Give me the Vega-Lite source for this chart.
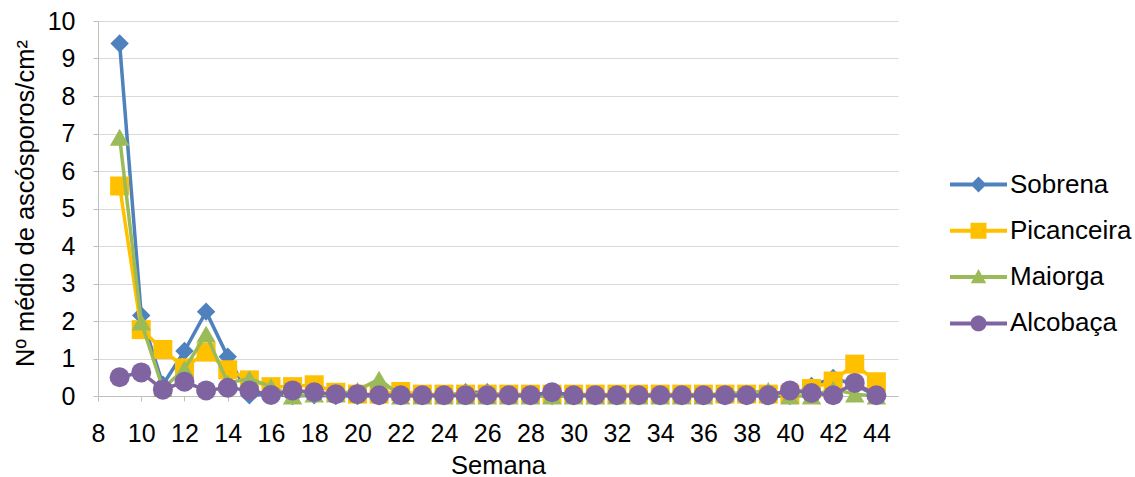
{
  "$schema": "https://vega.github.io/schema/vega-lite/v6.json",
  "width": 800,
  "height": 375,
  "autosize": {"type": "none"},
  "padding": {"left": 98, "top": 21, "right": 237, "bottom": 81},
  "background": "white",
  "config": {
    "view": {"stroke": null},
    "font": "Liberation Sans",
    "axis": {"labelFont": "Liberation Sans", "titleFont": "Liberation Sans", "labelColor": "#000000", "titleColor": "#000000", "titleFontWeight": "normal"}
  },
  "data": {"values": [
    {"semana": 9, "local": "Sobrena", "valor": 9.4}, {"semana": 10, "local": "Sobrena", "valor": 2.15}, {"semana": 11, "local": "Sobrena", "valor": 0.3}, {"semana": 12, "local": "Sobrena", "valor": 1.2}, {"semana": 13, "local": "Sobrena", "valor": 2.25}, {"semana": 14, "local": "Sobrena", "valor": 1.05}, {"semana": 15, "local": "Sobrena", "valor": 0.02}, {"semana": 16, "local": "Sobrena", "valor": 0.05}, {"semana": 17, "local": "Sobrena", "valor": 0}, {"semana": 18, "local": "Sobrena", "valor": 0.02}, {"semana": 19, "local": "Sobrena", "valor": 0}, {"semana": 20, "local": "Sobrena", "valor": 0}, {"semana": 21, "local": "Sobrena", "valor": 0}, {"semana": 22, "local": "Sobrena", "valor": 0}, {"semana": 23, "local": "Sobrena", "valor": 0}, {"semana": 24, "local": "Sobrena", "valor": 0}, {"semana": 25, "local": "Sobrena", "valor": 0.1}, {"semana": 26, "local": "Sobrena", "valor": 0.1}, {"semana": 27, "local": "Sobrena", "valor": 0}, {"semana": 28, "local": "Sobrena", "valor": 0}, {"semana": 29, "local": "Sobrena", "valor": 0}, {"semana": 30, "local": "Sobrena", "valor": 0}, {"semana": 31, "local": "Sobrena", "valor": 0}, {"semana": 32, "local": "Sobrena", "valor": 0}, {"semana": 33, "local": "Sobrena", "valor": 0}, {"semana": 34, "local": "Sobrena", "valor": 0}, {"semana": 35, "local": "Sobrena", "valor": 0}, {"semana": 36, "local": "Sobrena", "valor": 0}, {"semana": 37, "local": "Sobrena", "valor": 0}, {"semana": 38, "local": "Sobrena", "valor": 0}, {"semana": 39, "local": "Sobrena", "valor": 0}, {"semana": 40, "local": "Sobrena", "valor": 0}, {"semana": 41, "local": "Sobrena", "valor": 0.27}, {"semana": 42, "local": "Sobrena", "valor": 0.48}, {"semana": 43, "local": "Sobrena", "valor": 0.3}, {"semana": 44, "local": "Sobrena", "valor": 0},
    {"semana": 9, "local": "Picanceira", "valor": 5.6}, {"semana": 10, "local": "Picanceira", "valor": 1.77}, {"semana": 11, "local": "Picanceira", "valor": 1.24}, {"semana": 12, "local": "Picanceira", "valor": 0.75}, {"semana": 13, "local": "Picanceira", "valor": 1.17}, {"semana": 14, "local": "Picanceira", "valor": 0.7}, {"semana": 15, "local": "Picanceira", "valor": 0.43}, {"semana": 16, "local": "Picanceira", "valor": 0.25}, {"semana": 17, "local": "Picanceira", "valor": 0.25}, {"semana": 18, "local": "Picanceira", "valor": 0.3}, {"semana": 19, "local": "Picanceira", "valor": 0.1}, {"semana": 20, "local": "Picanceira", "valor": 0.05}, {"semana": 21, "local": "Picanceira", "valor": 0.05}, {"semana": 22, "local": "Picanceira", "valor": 0.12}, {"semana": 23, "local": "Picanceira", "valor": 0.05}, {"semana": 24, "local": "Picanceira", "valor": 0.05}, {"semana": 25, "local": "Picanceira", "valor": 0.05}, {"semana": 26, "local": "Picanceira", "valor": 0.05}, {"semana": 27, "local": "Picanceira", "valor": 0.05}, {"semana": 28, "local": "Picanceira", "valor": 0.05}, {"semana": 29, "local": "Picanceira", "valor": 0.05}, {"semana": 30, "local": "Picanceira", "valor": 0.05}, {"semana": 31, "local": "Picanceira", "valor": 0.05}, {"semana": 32, "local": "Picanceira", "valor": 0.05}, {"semana": 33, "local": "Picanceira", "valor": 0.05}, {"semana": 34, "local": "Picanceira", "valor": 0.05}, {"semana": 35, "local": "Picanceira", "valor": 0.05}, {"semana": 36, "local": "Picanceira", "valor": 0.05}, {"semana": 37, "local": "Picanceira", "valor": 0.05}, {"semana": 38, "local": "Picanceira", "valor": 0.05}, {"semana": 39, "local": "Picanceira", "valor": 0.05}, {"semana": 40, "local": "Picanceira", "valor": 0.05}, {"semana": 41, "local": "Picanceira", "valor": 0.2}, {"semana": 42, "local": "Picanceira", "valor": 0.4}, {"semana": 43, "local": "Picanceira", "valor": 0.85}, {"semana": 44, "local": "Picanceira", "valor": 0.38},
    {"semana": 9, "local": "Maiorga", "valor": 6.9}, {"semana": 10, "local": "Maiorga", "valor": 1.97}, {"semana": 11, "local": "Maiorga", "valor": 0.2}, {"semana": 12, "local": "Maiorga", "valor": 0.72}, {"semana": 13, "local": "Maiorga", "valor": 1.65}, {"semana": 14, "local": "Maiorga", "valor": 0.35}, {"semana": 15, "local": "Maiorga", "valor": 0.46}, {"semana": 16, "local": "Maiorga", "valor": 0.25}, {"semana": 17, "local": "Maiorga", "valor": 0}, {"semana": 18, "local": "Maiorga", "valor": 0.05}, {"semana": 19, "local": "Maiorga", "valor": 0.05}, {"semana": 20, "local": "Maiorga", "valor": 0.15}, {"semana": 21, "local": "Maiorga", "valor": 0.45}, {"semana": 22, "local": "Maiorga", "valor": 0}, {"semana": 23, "local": "Maiorga", "valor": 0}, {"semana": 24, "local": "Maiorga", "valor": 0}, {"semana": 25, "local": "Maiorga", "valor": 0}, {"semana": 26, "local": "Maiorga", "valor": 0}, {"semana": 27, "local": "Maiorga", "valor": 0}, {"semana": 28, "local": "Maiorga", "valor": 0}, {"semana": 29, "local": "Maiorga", "valor": 0}, {"semana": 30, "local": "Maiorga", "valor": 0}, {"semana": 31, "local": "Maiorga", "valor": 0}, {"semana": 32, "local": "Maiorga", "valor": 0}, {"semana": 33, "local": "Maiorga", "valor": 0}, {"semana": 34, "local": "Maiorga", "valor": 0}, {"semana": 35, "local": "Maiorga", "valor": 0}, {"semana": 36, "local": "Maiorga", "valor": 0}, {"semana": 37, "local": "Maiorga", "valor": 0.08}, {"semana": 38, "local": "Maiorga", "valor": 0.08}, {"semana": 39, "local": "Maiorga", "valor": 0.15}, {"semana": 40, "local": "Maiorga", "valor": 0}, {"semana": 41, "local": "Maiorga", "valor": 0}, {"semana": 42, "local": "Maiorga", "valor": 0.18}, {"semana": 43, "local": "Maiorga", "valor": 0.05}, {"semana": 44, "local": "Maiorga", "valor": 0},
    {"semana": 9, "local": "Alcobaça", "valor": 0.5}, {"semana": 10, "local": "Alcobaça", "valor": 0.63}, {"semana": 11, "local": "Alcobaça", "valor": 0.17}, {"semana": 12, "local": "Alcobaça", "valor": 0.38}, {"semana": 13, "local": "Alcobaça", "valor": 0.15}, {"semana": 14, "local": "Alcobaça", "valor": 0.22}, {"semana": 15, "local": "Alcobaça", "valor": 0.15}, {"semana": 16, "local": "Alcobaça", "valor": 0.03}, {"semana": 17, "local": "Alcobaça", "valor": 0.15}, {"semana": 18, "local": "Alcobaça", "valor": 0.1}, {"semana": 19, "local": "Alcobaça", "valor": 0.05}, {"semana": 20, "local": "Alcobaça", "valor": 0.05}, {"semana": 21, "local": "Alcobaça", "valor": 0.02}, {"semana": 22, "local": "Alcobaça", "valor": 0.02}, {"semana": 23, "local": "Alcobaça", "valor": 0.02}, {"semana": 24, "local": "Alcobaça", "valor": 0.02}, {"semana": 25, "local": "Alcobaça", "valor": 0.02}, {"semana": 26, "local": "Alcobaça", "valor": 0.02}, {"semana": 27, "local": "Alcobaça", "valor": 0.02}, {"semana": 28, "local": "Alcobaça", "valor": 0.02}, {"semana": 29, "local": "Alcobaça", "valor": 0.1}, {"semana": 30, "local": "Alcobaça", "valor": 0.02}, {"semana": 31, "local": "Alcobaça", "valor": 0.02}, {"semana": 32, "local": "Alcobaça", "valor": 0.02}, {"semana": 33, "local": "Alcobaça", "valor": 0.02}, {"semana": 34, "local": "Alcobaça", "valor": 0.02}, {"semana": 35, "local": "Alcobaça", "valor": 0.02}, {"semana": 36, "local": "Alcobaça", "valor": 0.02}, {"semana": 37, "local": "Alcobaça", "valor": 0.02}, {"semana": 38, "local": "Alcobaça", "valor": 0.02}, {"semana": 39, "local": "Alcobaça", "valor": 0.02}, {"semana": 40, "local": "Alcobaça", "valor": 0.15}, {"semana": 41, "local": "Alcobaça", "valor": 0.08}, {"semana": 42, "local": "Alcobaça", "valor": 0.02}, {"semana": 43, "local": "Alcobaça", "valor": 0.35}, {"semana": 44, "local": "Alcobaça", "valor": 0.02}
  ]},
  "encoding": {
    "x": {"field": "semana", "type": "quantitative", "scale": {"domain": [8, 45], "nice": false, "zero": false},
      "axis": {"title": "Semana", "values": [8, 10, 12, 14, 16, 18, 20, 22, 24, 26, 28, 30, 32, 34, 36, 38, 40, 42, 44], "grid": false, "domainColor": "#bfbfbf", "domainWidth": 1, "tickColor": "#bfbfbf", "tickSize": 5, "labelFontSize": 25, "labelPadding": 20, "labelBaseline": "top", "labelFlush": false, "labelOverlap": false, "titleFontSize": 25.5, "titleX": 400, "titleY": 77, "titleBaseline": "alphabetic", "titleAlign": "center", "titleAnchor": null}},
    "y": {"field": "valor", "type": "quantitative", "scale": {"domain": [0, 10], "nice": false},
      "axis": {"title": "Nº médio de ascósporos/cm²", "values": [0, 1, 2, 3, 4, 5, 6, 7, 8, 9, 10], "grid": true, "gridColor": "#d9d9d9", "gridWidth": 1, "domainColor": "#bfbfbf", "domainWidth": 1, "tickColor": "#bfbfbf", "tickSize": 5, "labelFontSize": 25, "labelPadding": 18, "labelFlush": false, "labelOverlap": false, "titleFontSize": 25.5, "titleAngle": -90, "titleX": -73, "titleY": 182, "titleBaseline": "middle", "titleAlign": "center", "titleAnchor": null}}
  },
  "layer": [
    {"transform": [{"filter": "datum.local === 'Sobrena'"}], "mark": {"type": "line", "color": "#4f81bd", "strokeWidth": 3.5, "strokeJoin": "round", "strokeCap": "round"}},
    {"transform": [{"filter": "datum.local === 'Sobrena'"}], "mark": {"type": "point", "shape": "diamond", "filled": true, "size": 340, "color": "#4f81bd", "opacity": 1}},
    {"transform": [{"filter": "datum.local === 'Picanceira'"}], "mark": {"type": "line", "color": "#ffc000", "strokeWidth": 3.5, "strokeJoin": "round", "strokeCap": "round"}},
    {"transform": [{"filter": "datum.local === 'Picanceira'"}], "mark": {"type": "point", "shape": "square", "filled": true, "size": 360, "color": "#ffc000", "opacity": 1}},
    {"transform": [{"filter": "datum.local === 'Maiorga'"}], "mark": {"type": "line", "color": "#9bbb59", "strokeWidth": 3.5, "strokeJoin": "round", "strokeCap": "round"}},
    {"transform": [{"filter": "datum.local === 'Maiorga'"}], "mark": {"type": "point", "shape": "M0,-0.87L1,0.87L-1,0.87Z", "filled": true, "size": 380, "color": "#9bbb59", "opacity": 1}},
    {"transform": [{"filter": "datum.local === 'Alcobaça'"}], "mark": {"type": "line", "color": "#8064a2", "strokeWidth": 3.5, "strokeJoin": "round", "strokeCap": "round"}},
    {"transform": [{"filter": "datum.local === 'Alcobaça'"}], "mark": {"type": "point", "shape": "circle", "filled": true, "size": 400, "color": "#8064a2", "opacity": 1}},
    {"mark": {"type": "point", "filled": true, "opacity": 0},
      "encoding": {
        "color": {"field": "local", "type": "nominal", "scale": {"domain": ["Sobrena", "Picanceira", "Maiorga", "Alcobaça"], "range": ["#4f81bd", "#ffc000", "#9bbb59", "#8064a2"]},
          "legend": {"title": null, "orient": "none", "legendX": 852, "legendY": 135, "padding": 0, "symbolSize": 3249, "symbolOpacity": 1, "symbolStrokeWidth": 0, "labelFontSize": 26, "labelFont": "Liberation Sans", "labelColor": "#000000", "labelOffset": 3, "rowPadding": 4.3}},
        "shape": {"field": "local", "type": "nominal", "scale": {"domain": ["Sobrena", "Picanceira", "Maiorga", "Alcobaça"], "range": [
          "M-1,-0.07L-0.21,-0.07L0,-0.28L0.21,-0.07L1,-0.07L1,0.07L0.21,0.07L0,0.28L-0.21,0.07L-1,0.07Z",
          "M-1,-0.07L-0.28,-0.07L-0.28,-0.28L0.28,-0.28L0.28,-0.07L1,-0.07L1,0.07L0.28,0.07L0.28,0.28L-0.28,0.28L-0.28,0.07L-1,0.07Z",
          "M-1,-0.07L-0.113,-0.07L0,-0.28L0.113,-0.07L1,-0.07L1,0.07L0.189,0.07L0.27,0.22L-0.27,0.22L-0.189,0.07L-1,0.07Z",
          "M-1,-0.07L-0.27,-0.07A0.28,0.28 0 0,1 0.27,-0.07L1,-0.07L1,0.07L0.27,0.07A0.28,0.28 0 0,1 -0.27,0.07L-1,0.07Z"]},
          "legend": {"title": null, "orient": "none", "legendX": 852, "legendY": 135, "padding": 0, "symbolSize": 3249, "symbolOpacity": 1, "symbolStrokeWidth": 0, "labelFontSize": 26, "labelFont": "Liberation Sans", "labelColor": "#000000", "labelOffset": 3, "rowPadding": 4.3}}
      }}
  ]
}
